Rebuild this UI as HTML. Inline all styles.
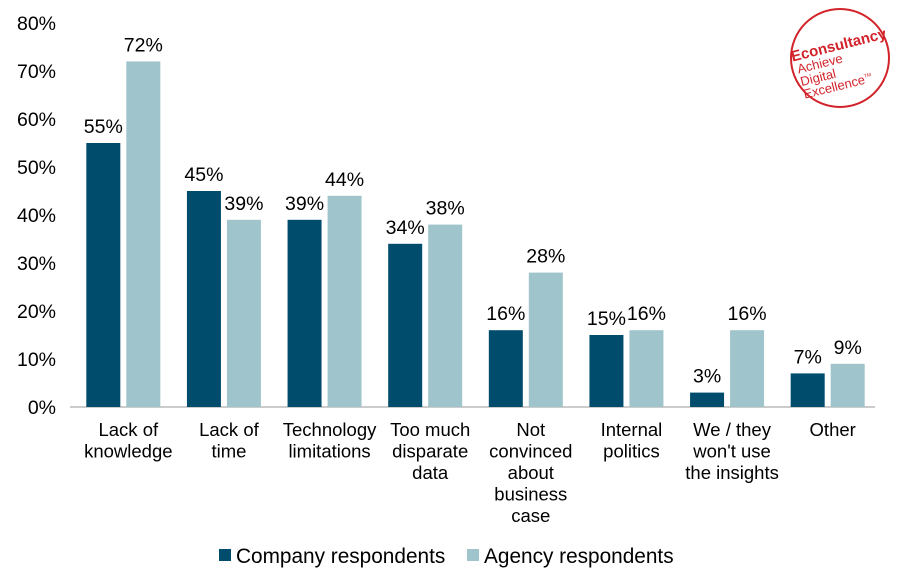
<!DOCTYPE html>
<html><head><meta charset="utf-8"><style>
body{margin:0;background:#fff;width:900px;height:587px;overflow:hidden;font-family:"Liberation Sans",Arial,sans-serif}
svg{display:block}
text{font-family:"Liberation Sans",Arial,sans-serif;fill:#000}
</style></head><body>
<svg id="chart" width="900" height="587">
<g id="logo">
<circle cx="840" cy="58" r="49" fill="none" stroke="#d2232a" stroke-width="2"/>
<g transform="rotate(-14 840 58)">
<text x="793" y="50" font-size="15" font-weight="bold" style="fill:#d2232a">Econsultancy</text>
<text x="796" y="63" font-size="13" style="fill:#d2232a">Achieve</text>
<text x="796" y="76" font-size="13" style="fill:#d2232a">Digital</text>
<text x="796" y="89" font-size="13" style="fill:#d2232a">Excellence<tspan font-size="5" dy="-6">TM</tspan></text>
</g>
</g>
</svg>
<script>
const categories=[["Lack of","knowledge"],["Lack of","time"],["Technology","limitations"],["Too much","disparate","data"],["Not","convinced","about","business","case"],["Internal","politics"],["We / they","won't use","the insights"],["Other"]];
const company=[55,45,39,34,16,15,3,7];
const agency=[72,39,44,38,28,16,16,9];
const yTicks=[0,10,20,30,40,50,60,70,80];
const colors=["#004c6d","#a0c4cb"];
const NS="http://www.w3.org/2000/svg";
const svg=document.getElementById('chart');
const x0=70,x1=875,y0=407,yTop=23;
const band=(x1-x0)/categories.length;
const y=v=>y0-(v/80)*(y0-yTop);
const cx=i=>x0+band*(i+0.5)+3;
function el(t,a){const e=document.createElementNS(NS,t);for(const k in a)e.setAttribute(k,a[k]);svg.appendChild(e);return e;}
yTicks.forEach(t=>{const e=el('text',{x:56,y:y(t)+7,'text-anchor':'end','font-size':19.5});e.textContent=t+'%';

});
const ax=el('line',{x1:x0,x2:x1,y1:y0,y2:y0,stroke:'#999','stroke-width':1});


[company,agency].forEach((s,si)=>{s.forEach((v,i)=>{
const bx=si==0?cx(i)-37:cx(i)+3;
const r=el('rect',{x:bx,y:y(v),width:34,height:y0-y(v),fill:colors[si]});


const t=el('text',{x:bx+17,y:y(v)-10,'text-anchor':'middle','font-size':19.5});t.textContent=v+'%';

});});
categories.forEach((c,i)=>{c.forEach((ln,j)=>{const t=el('text',{x:cx(i)+5,y:436+j*21.5,'text-anchor':'middle','font-size':18.5});t.textContent=ln;

});});
[["Company respondents",219],["Agency respondents",467]].forEach((l,i)=>{
const r=el('rect',{x:l[1],y:549,width:12,height:12,fill:colors[i]});


const t=el('text',{x:l[1]+17,y:563,'font-size':20.8});t.textContent=l[0];

});
</script>
</body></html>
